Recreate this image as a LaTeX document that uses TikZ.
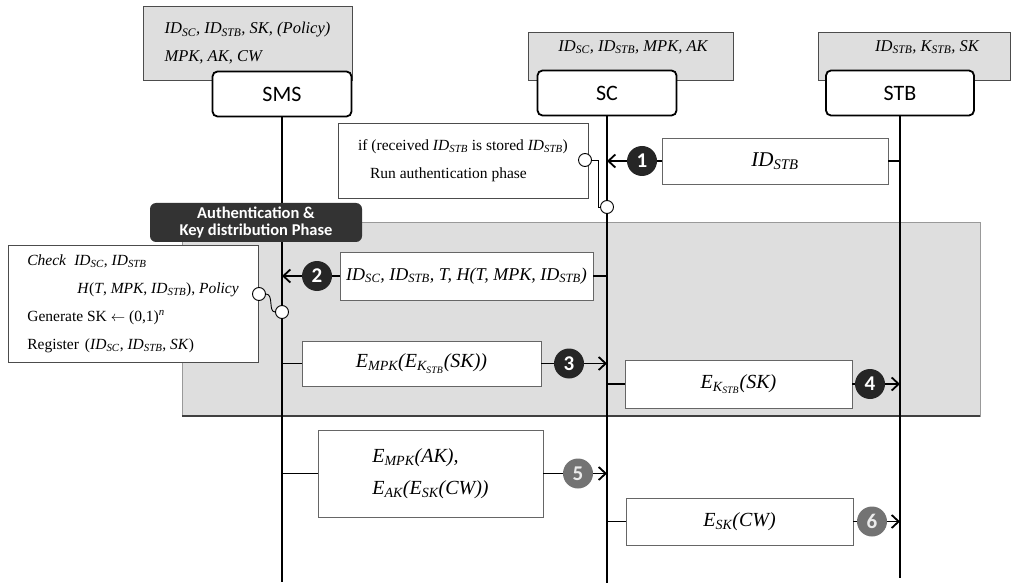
\documentclass[tikz,border=0pt]{standalone}
\usepackage{fontspec}
\setmainfont{Liberation Serif}
\newfontfamily\headfont{Carlito}
\usetikzlibrary{arrows.meta,positioning,calc}
\newcommand{\idn}[1]{\textit{ID}\textsubscript{\textit{#1}}}
\newcommand{\enc}[2]{\textit{E}\textsubscript{\textit{#1}}(#2)}

\begin{document}
\begin{tikzpicture}[x=1pt,y=-1pt,
  info/.style={shape=rectangle,draw=black!70,fill=black!13,line width=0.8pt},
  head/.style={shape=rectangle,draw,line width=1.8pt,rounded corners=5pt,fill=white,minimum width=139pt,minimum height=45pt,font=\headfont\fontsize{22}{22}\selectfont},
  msg/.style={shape=rectangle,draw=black!60,fill=white,line width=0.8pt,font=\fontsize{20}{32}\selectfont\itshape},
  note/.style={shape=rectangle,draw=black!70,fill=white,line width=0.8pt,align=left,font=\fontsize{15.5}{28}\selectfont},
  num/.style={shape=circle,fill=black!85,text=white,inner sep=0pt,minimum size=30pt,font=\headfont\bfseries\fontsize{21}{21}\selectfont},
  gnum/.style={num,fill=black!55,text=black!8},
  dot/.style={shape=circle,draw,fill=white,line width=0.9pt,inner sep=0pt,minimum size=13pt},
  life/.style={line width=1.6pt},
  flow/.style={line width=1.8pt,-{Straight Barb[length=7pt,width=13pt]}}
]
\useasboundingbox (0,0) rectangle (1035,585);

\node[shape=rectangle,draw=black!40,fill=black!13,minimum width=798pt,minimum height=194pt] (P) at (581,319) {};
\draw[line width=1.8pt,black!75] (P.south west) -- (P.south east);

\node[info,minimum width=209pt,minimum height=74pt,align=left,font=\fontsize{16.5}{28}\selectfont\itshape] (SMSI) at (247.5,43) {\idn{SC}, \idn{STB}, SK, (Policy)\\MPK, AK, CW};
\node[info,minimum width=205pt,minimum height=48pt] (SCI) at (630.5,56) {};
\node[font=\fontsize{16.5}{16.5}\selectfont\itshape] (SCT) at (633,47) {\idn{SC}, \idn{STB}, MPK, AK};
\node[info,minimum width=192pt,minimum height=48pt] (STBI) at (914,56) {};
\node[font=\fontsize{16.5}{16.5}\selectfont\itshape] (STBT) at (927,47) {\idn{STB}, K\textsubscript{STB}, SK};

\node[head] (SMS) at (282,94) {SMS};
\node[head] (SC) at (607,93) {SC};
\node[head,minimum width=148pt] (STB) at (900,93) {STB};
\coordinate (SMSE) at (282,582);
\coordinate (SCE) at (607,583);
\coordinate (STBE) at (900,578);
\draw[life] (SMS.south) -- (SMSE);
\draw[life] (SC.south) -- (SCE);
\draw[life] (STB.south) -- (STBE);

\node[note,minimum width=250pt,minimum height=75pt] (N1) at (463,160.5) {if (received \idn{STB} is stored \idn{STB})\\\hspace*{12pt}Run authentication phase};
\node[dot] (D1) at (585,160) {};
\node[dot] (D2) at (607,207) {};
\draw[line width=0.9pt] (D1.east) -- ++(6,0) |- (D2.west);

\node[msg,minimum width=226pt,minimum height=46pt,font=\fontsize{21}{21}\selectfont\itshape] (M1) at (775,161) {\idn{STB}};
\node[num] (C1) at (642,161) {1};
\draw[life] (M1.east) -- (M1.east -| STB);
\draw[life] (M1.west) -- (C1.east);
\draw[flow] (C1.west) -- (C1.west -| SC);

\node[shape=rectangle,rounded corners=6pt,fill=black!80,text=white,align=center,minimum width=212pt,minimum height=39pt,inner sep=1pt,font=\headfont\bfseries\fontsize{16.5}{17}\selectfont] (PH) at (256,222.5) {Authentication \&\\Key distribution Phase};

\node[note,minimum width=250pt,minimum height=117pt] (N2) at (133,303.5) {\textit{Check}\hspace{8pt}\idn{SC}, \idn{STB}\\\hspace*{50pt}\textit{H}(\textit{T}, \textit{MPK}, \idn{STB}), \textit{Policy}\\Generate SK $\leftarrow$ (0,1)\textsuperscript{\textit{n}}\\Register\hspace{6pt}(\idn{SC}, \idn{STB}, \textit{SK})};
\node[dot] (D3) at (259,294) {};
\node[dot] (D4) at (282,312) {};
\draw[line width=0.9pt] (D3.east) .. controls (274,294) and (268,312) .. (D4.west);

\node[msg,minimum width=253pt,minimum height=48pt,font=\fontsize{18}{18}\selectfont\itshape] (M2) at (466.5,276) {\idn{SC}, \idn{STB}, T, H(T, MPK, \idn{STB})};
\node[num] (C2) at (317,276) {2};
\draw[life] (M2.east) -- (M2.east -| SC);
\draw[life] (M2.west) -- (C2.east);
\draw[flow] (C2.west) -- (C2.west -| SMS);

\node[msg,minimum width=239pt,minimum height=45pt] (M3) at (421.5,363.5) {\enc{MPK}{\textit{E}\textsubscript{\textit{K}\textsubscript{\textit{STB}}}(SK)}};
\node[num] (C3) at (569,363.5) {3};
\draw[life] (M3.west -| SMS) -- (M3.west);
\draw[life] (M3.east) -- (C3.west);
\draw[flow] (C3.east) -- (C3.east -| SC);

\node[msg,minimum width=227pt,minimum height=48pt] (M4) at (738.5,384) {\enc{K\textsubscript{STB}}{SK}};
\node[num] (C4) at (870,384) {4};
\draw[life] (M4.west -| SC) -- (M4.west);
\draw[life] (M4.east) -- (C4.west);
\draw[flow] (C4.east) -- (C4.east -| STB);

\node[msg,minimum width=225pt,minimum height=87pt,align=left] (M5) at (430.5,473.5) {\enc{MPK}{AK},\\\enc{AK}{\enc{SK}{CW}}};
\node[gnum] (C5) at (578,473.5) {5};
\draw[life] (M5.west -| SMS) -- (M5.west);
\draw[life] (M5.east) -- (C5.west);
\draw[flow] (C5.east) -- (C5.east -| SC);

\node[msg,minimum width=227pt,minimum height=47pt] (M6) at (739.5,521.5) {\enc{SK}{CW}};
\node[gnum] (C6) at (872,521.5) {6};
\draw[life] (M6.west -| SC) -- (M6.west);
\draw[life] (M6.east) -- (C6.west);
\draw[flow] (C6.east) -- (C6.east -| STB);
\end{tikzpicture}
\end{document}
